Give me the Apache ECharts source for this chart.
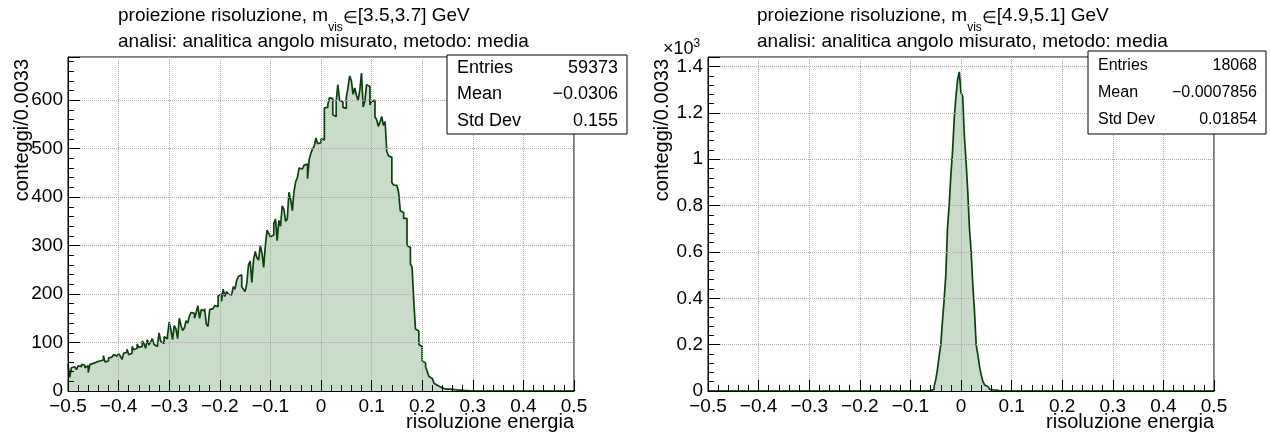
<!DOCTYPE html>
<html><head><meta charset="utf-8">
<script src="https://cdn.jsdelivr.net/npm/echarts@6/dist/echarts.min.js"></script>
<style>html,body{margin:0;padding:0;background:#fff}#c{width:1270px;height:438px}</style>
</head><body><div id="c"></div>
<script>
// ---- data ----
const binLow = -0.5, binHigh = 0.5, nBins = 300;
const leftCounts = [
 55, 28, 48, 50, 46, 44, 52, 50, 55, 53,
 48, 52, 38, 55, 57, 54, 60, 58, 62, 59,
 64, 73, 60, 62, 68, 70, 66, 75, 72, 69,
 77, 72, 65, 78, 80, 86, 75, 78, 92, 85,
 88, 97, 90, 92, 103, 98, 88, 106, 95, 101,
 108, 96, 92, 88, 120, 102, 98, 112, 108, 115,
 142, 126, 106, 135, 128, 108, 150, 135, 125, 130,
 145, 140, 155, 162, 160, 150, 162, 176, 150, 168,
 165, 170, 138, 133, 168, 170, 172, 176, 174, 196,
 200, 185, 210, 195, 205, 200, 198, 202, 215, 210,
 228, 236, 240, 215, 210, 205, 222, 260, 268, 224,
 270, 288, 275, 270, 300, 285, 255, 300, 332, 325,
 318, 322, 345, 355, 310, 352, 340, 382, 375, 350,
 355, 410, 395, 372, 412, 432, 440, 460, 458, 462,
 466, 468, 438, 478, 490, 500, 505, 522, 510, 512,
 520, 518, 584, 585, 590, 605, 603, 570, 566, 598,
 632, 600, 596, 585, 583, 605, 626, 650, 640, 612,
 625, 610, 600, 620, 656, 586, 598, 632, 628, 590,
 597, 600, 565, 560, 546, 555, 566, 548, 556, 494,
 485, 482, 430, 425, 424, 420, 410, 372, 368, 356,
 356, 300, 296, 262, 255, 186, 128, 124, 96, 92,
 62, 58, 50, 40, 30, 26, 22, 16, 12, 10,
 8, 6, 5, 5, 4, 3, 4, 2, 3, 2,
 2, 1, 2, 3, 1, 0, 1, 2, 0, 1,
 0, 1, 0, 0, 0, 0, 0, 0, 0, 0,
 0, 0, 0, 1, 0, 0, 0, 0, 0, 0,
 0, 0, 0, 0, 0, 0, 0, 0, 0, 0,
 0, 0, 0, 0, 0, 0, 0, 0, 0, 0,
 0, 0, 0, 0, 0, 0, 0, 0, 0, 0,
 0, 0, 0, 0, 0, 0, 0, 0, 0, 0
];
const rightFirstBin = 130;
const rightCounts = [
 1, 2, 2, 7, 19, 48, 91, 148, 199, 300,
 393, 501, 703, 803, 933, 1034, 1178, 1270, 1343, 1377,
 1286, 1272, 1099, 991, 861, 703, 602, 458, 343, 199,
 156, 105, 69, 40, 26, 19, 12, 7, 5, 3,
 4, 2, 1, 2, 1
];
const leftTitle = ['proiezione risoluzione, m', 'vis', '\u2208', '[3.5,3.7] GeV'];
const rightTitle = ['proiezione risoluzione, m', 'vis', '\u2208', '[4.9,5.1] GeV'];
const subTitle = 'analisi: analitica angolo misurato, metodo: media';
const leftStats = [['Entries', '59373'], ['Mean', '\u22120.0306'], ['Std Dev', '0.155']];
const rightStats = [['Entries', '18068'], ['Mean', '\u22120.0007856'], ['Std Dev', '0.01854']];
const xName = 'risoluzione energia';
const yName = 'conteggi/0.0033';

// ---- build ----
const bw = (binHigh - binLow) / nBins;
function histData(counts, first) {
  const full = new Array(nBins).fill(0);
  counts.forEach((v, i) => { full[first + i] = v; });
  const pts = full.map((v, i) => [binLow + i * bw, v]);
  pts.push([binHigh, full[nBins - 1]]);
  return pts;
}
const FONT = 'Liberation Sans';
const LINE = '#0c420e', FILL = '#c9dbc9';
function xFmt(v) {
  const r = Math.round(v * 10) / 10;
  if (Math.abs(r) < 1e-9) return '0';
  return (r < 0 ? '\u2212' : '') + Math.abs(r);
}
function xAxis(idx) {
  return {
    type: 'value', gridIndex: idx, min: -0.5, max: 0.5, interval: 0.1, z: 5,
    axisLine: { show: true, onZero: false, lineStyle: { color: '#000', width: 1 } },
    axisTick: { show: true, inside: true, length: 11, lineStyle: { color: '#000' } },
    minorTick: { show: true, splitNumber: 5, length: 6, lineStyle: { color: '#000' } },
    splitLine: { show: true, lineStyle: { color: '#aaa', type: 'dotted', width: 1 } },
    axisLabel: { formatter: xFmt, fontFamily: FONT, fontSize: 19, color: '#000', margin: 6 }
  };
}
function yAxis(idx, max, interval, fmt) {
  return {
    type: 'value', gridIndex: idx, min: 0, max: max, interval: interval, z: 5,
    axisLine: { show: true, onZero: false, lineStyle: { color: '#000', width: 1 } },
    axisTick: { show: true, inside: true, length: 12, lineStyle: { color: '#000' } },
    minorTick: { show: true, splitNumber: 5, length: 6, lineStyle: { color: '#000' } },
    splitLine: { show: true, lineStyle: { color: '#aaa', type: 'dotted', width: 1 } },
    axisLabel: { formatter: fmt, fontFamily: FONT, fontSize: 19, color: '#000', margin: 5, showMaxLabel: false }
  };
}
function series(idx, counts, first) {
  return {
    type: 'line', xAxisIndex: idx, yAxisIndex: idx, step: 'end', symbol: 'none',
    data: histData(counts, first), animation: false, z: 2,
    lineStyle: { color: LINE, width: 1.7 },
    areaStyle: { color: FILL, opacity: 1, origin: 'start' }
  };
}
function titleText(x, y, parts) {
  return {
    type: 'text', x: x, y: y, z: 10,
    style: {
      text: '{a|' + parts[0] + '}{s|' + parts[1] + '}{e|' + parts[2] + '}{a|' + parts[3] + '}',
      rich: {
        a: { fontFamily: FONT, fontSize: 19, fill: '#000', lineHeight: 20, verticalAlign: 'top' },
        e: { fontFamily: FONT, fontSize: 17, fill: '#000', lineHeight: 20, verticalAlign: 'top', padding: [4, 0, 0, 0] },
        s: { fontFamily: FONT, fontSize: 12, fill: '#000', lineHeight: 28, verticalAlign: 'bottom' }
      }
    }
  };
}
function plainText(x, y, txt, size, align, extra) {
  return Object.assign({
    type: 'text', x: x, y: y, z: 10,
    style: { text: txt, fontFamily: FONT, fontSize: size, fill: '#000', align: align, verticalAlign: 'middle' }
  }, extra || {});
}
function statsBox(x, y, w, h, rows, size, rowYs) {
  const els = [{ type: 'rect', z: 10, shape: { x: x, y: y, width: w, height: h },
    style: { fill: '#fff', stroke: '#000', lineWidth: 1 } }];
  rows.forEach((r, i) => {
    els.push(plainText(x + 10, rowYs[i], r[0], size, 'left'));
    els.push(plainText(x + w - 9, rowYs[i], r[1], size, 'right'));
  });
  return els;
}
const graphics = [].concat(
  [titleText(118, 6, leftTitle), titleText(757, 6, rightTitle),
   plainText(118, 42, subTitle, 19, 'left'), plainText(757, 42, subTitle, 19, 'left'),
   plainText(574, 422, xName, 20, 'right'), plainText(1214, 422, xName, 20, 'right'),
   plainText(22, 59, yName, 20, 'right', { rotation: Math.PI / 2 }),
   plainText(662, 59, yName, 20, 'right', { rotation: Math.PI / 2 }),
   { type: 'text', x: 663, y: 38, z: 10, style: { text: '{a|\u00d710}{s|3}', rich: {
      a: { fontFamily: FONT, fontSize: 18, fill: '#000', lineHeight: 20, verticalAlign: 'bottom' },
      s: { fontFamily: FONT, fontSize: 12, fill: '#000', lineHeight: 12, verticalAlign: 'top' } } } }
  ],
  statsBox(447, 55, 180, 79, leftStats, 18, [68, 94, 121]),
  statsBox(1088, 51, 178, 83, rightStats, 16, [66, 93, 120])
);
const chart = echarts.init(document.getElementById('c'), null, { renderer: 'canvas' });
chart.setOption({
  backgroundColor: '#fff',
  animation: false,
  grid: [
    { left: 68, top: 57, width: 506, height: 334, show: true, borderColor: '#000', borderWidth: 1, backgroundColor: 'transparent' },
    { left: 708, top: 57, width: 506, height: 334, show: true, borderColor: '#000', borderWidth: 1, backgroundColor: 'transparent' }
  ],
  xAxis: [xAxis(0), xAxis(1)],
  yAxis: [
    yAxis(0, 689, 100, v => String(Math.round(v))),
    yAxis(1, 1441, 200, v => { const r = Math.round(v / 100) / 10; return r === 0 ? '0' : String(r); })
  ],
  series: [series(0, leftCounts, 0), series(1, rightCounts, rightFirstBin)],
  graphic: graphics
});
</script></body></html>
